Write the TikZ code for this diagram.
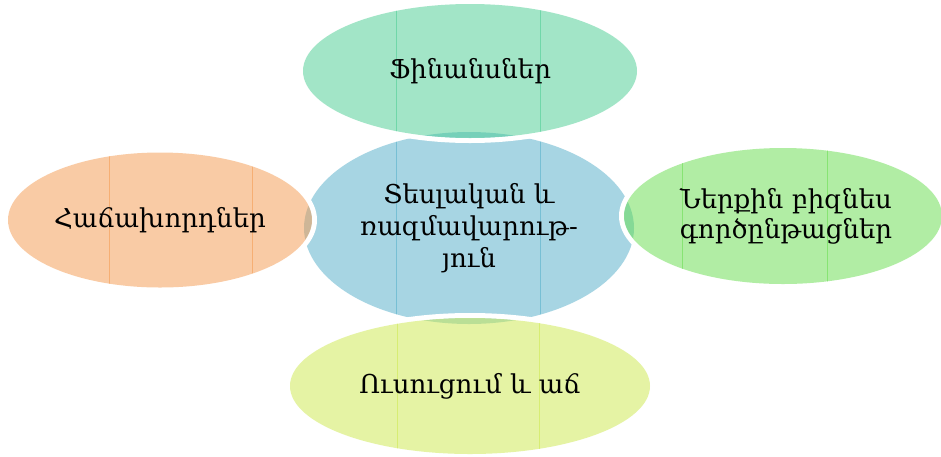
\documentclass[tikz,border=0pt]{standalone}
\usepackage{fontspec}
\newfontfamily\arm{DejaVu Serif}
\usetikzlibrary{shapes.geometric}
\definecolor{cblue}{RGB}{81,173,201}
\definecolor{cmint}{RGB}{71,205,145}
\definecolor{corange}{RGB}{245,153,77}
\definecolor{cgreen}{RGB}{101,221,75}
\definecolor{cyellow}{RGB}{205,233,75}
\begin{document}
\begin{tikzpicture}[x=1pt,y=-1pt,
  bub/.style={ellipse, inner sep=0pt, outer sep=0pt, fill opacity=0.5},
  ring/.style={draw=white, line width=5pt},
  seam/.style={line width=0.7pt, draw opacity=0.55},
  lab/.style={font=\arm\fontsize{26}{32}\selectfont, align=center, text=black, inner sep=0pt}]
\useasboundingbox[fill=white] (0,0) rectangle (941,456);
% central
\node[bub, fill=cblue, minimum width=330pt, minimum height=192pt] (c) at (469,228) {};
\begin{scope}
  \clip (469,228) ellipse [x radius=165, y radius=96];
  \draw[seam, cblue] (396,120) -- (396,340);
  \draw[seam, cblue] (540,120) -- (540,340);
\end{scope}
% top
\draw[ring] (470,71) ellipse [x radius=169.5, y radius=69.5];
\node[bub, fill=cmint, minimum width=334pt, minimum height=134pt] (t) at (470,71) {};
\begin{scope}
  \clip (470,71) ellipse [x radius=167, y radius=67];
  \draw[seam, cmint] (396,0) -- (396,150);
  \draw[seam, cmint] (540,0) -- (540,150);
\end{scope}
% left
\draw[ring] (160,220) ellipse [x radius=154.5, y radius=70];
\node[bub, fill=corange, minimum width=304pt, minimum height=135pt] (l) at (160,220) {};
\begin{scope}
  \clip (160,220) ellipse [x radius=152, y radius=67.5];
  \draw[seam, corange] (109,140) -- (109,300);
  \draw[seam, corange] (252,140) -- (252,300);
\end{scope}
% right
\draw[ring] (783,216) ellipse [x radius=161.5, y radius=70.5];
\node[bub, fill=cgreen, minimum width=318pt, minimum height=136pt] (r) at (783,216) {};
\begin{scope}
  \clip (783,216) ellipse [x radius=159, y radius=68];
  \draw[seam, cgreen] (682,140) -- (682,300);
  \draw[seam, cgreen] (827,140) -- (827,300);
\end{scope}
% bottom
\draw[ring] (470,386) ellipse [x radius=182.5, y radius=70.5];
\node[bub, fill=cyellow, minimum width=360pt, minimum height=136pt] (b) at (470,386) {};
\begin{scope}
  \clip (470,386) ellipse [x radius=180, y radius=68];
  \draw[seam, cyellow] (397,310) -- (397,460);
  \draw[seam, cyellow] (539,310) -- (539,460);
\end{scope}
% labels
\node[lab] (ct) at (c.center) {Տեսլական և\\ռազմավարութ-\\յուն};
\node[lab] (tt) at (t.center) {Ֆինանսներ};
\node[lab] (lt) at (l.center) {Հաճախորդներ};
\node[lab, font=\arm\fontsize{26}{30}\selectfont] (rt) at ([xshift=3pt]r.center) {Ներքին բիզնես\\գործընթացներ};
\node[lab] (bt) at (b.center) {Ուսուցում և աճ};
\end{tikzpicture}
\end{document}
